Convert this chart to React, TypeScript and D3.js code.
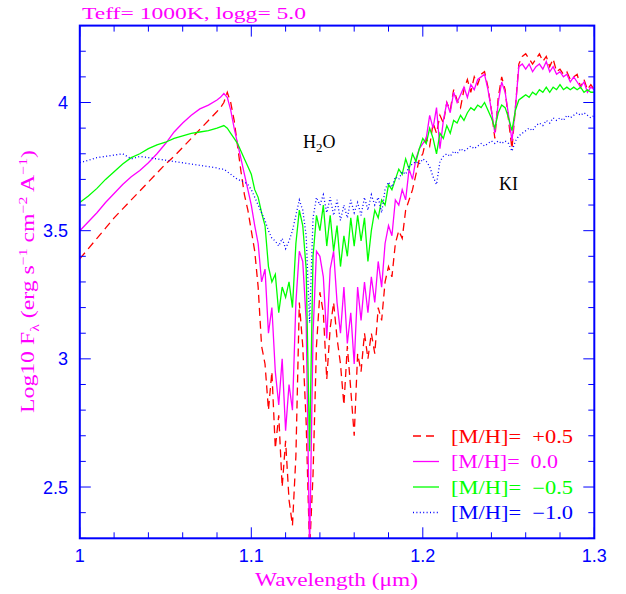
import React from "react";
import * as d3 from "d3";

// Wavelength grid (micron)
const wavelengths = [
  1.000, 1.005, 1.010, 1.015, 1.020, 1.025, 1.030, 1.035, 1.040, 1.045, 1.050, 1.055, 1.060, 1.065, 1.070, 1.075, 1.080,
  1.082, 1.084, 1.086, 1.088, 1.090, 1.092, 1.094, 1.096, 1.098, 1.100,
  1.102, 1.104, 1.106, 1.108, 1.110, 1.112, 1.114, 1.116, 1.118, 1.120,
  1.122, 1.124, 1.126, 1.128, 1.130, 1.132, 1.134, 1.136, 1.138, 1.140,
  1.142, 1.144, 1.146, 1.148, 1.150, 1.152, 1.154, 1.156, 1.158, 1.160,
  1.162, 1.164, 1.166, 1.168, 1.170, 1.172, 1.174, 1.176, 1.178, 1.180,
  1.182, 1.184, 1.186, 1.188, 1.190, 1.192, 1.194, 1.196, 1.198, 1.200,
  1.202, 1.204, 1.206, 1.208, 1.210, 1.212, 1.214, 1.216, 1.218, 1.220,
  1.222, 1.224, 1.226, 1.228, 1.230, 1.232, 1.234, 1.236, 1.238, 1.240,
  1.242, 1.244, 1.246, 1.248, 1.250, 1.252, 1.254, 1.256, 1.258, 1.260,
  1.262, 1.264, 1.266, 1.268, 1.270, 1.272, 1.274, 1.276, 1.278, 1.280,
  1.282, 1.284, 1.286, 1.288, 1.290, 1.292, 1.294, 1.296, 1.298, 1.300,
];

// [M/H] = +0.5
const fluxPlus05 = [
  3.39, 3.43, 3.47, 3.51, 3.55, 3.585, 3.62, 3.655, 3.69, 3.725, 3.76, 3.79, 3.825, 3.86, 3.895, 3.93, 3.965,
  3.98, 4.00, 4.04, 4.00, 3.93, 3.83, 3.73, 3.64, 3.58, 3.50,
  3.42, 3.28, 3.05, 2.98, 2.80, 2.95, 2.65, 2.78, 2.50, 2.68,
  2.45, 2.35, 2.62, 3.22, 3.05, 2.75, 2.25, 2.55, 3.05, 3.26,
  3.18, 2.92, 3.12, 3.22, 3.08, 2.98, 2.82, 3.05, 2.88, 2.70,
  3.02, 2.95, 3.10, 3.00, 3.10, 3.02, 3.20, 3.15, 3.30, 3.36,
  3.32, 3.45, 3.50, 3.47, 3.58, 3.62, 3.66, 3.72, 3.78, 3.80,
  3.86, 3.83, 3.92, 3.88, 3.95, 3.92, 4.00, 3.97, 4.05, 4.01,
  3.98, 4.05, 4.09, 4.04, 4.10, 4.07, 4.11, 4.12, 4.06, 3.97,
  3.86, 4.02, 4.10, 4.05, 3.93, 3.82, 3.98, 4.15, 4.18, 4.19,
  4.17, 4.15, 4.17, 4.19, 4.16, 4.18, 4.14, 4.17, 4.12, 4.13,
  4.11, 4.12, 4.09, 4.10, 4.11, 4.06, 4.09, 4.05, 4.07, 4.05,
];

// [M/H] = 0.0
const fluxZero = [
  3.50, 3.535, 3.57, 3.61, 3.645, 3.68, 3.71, 3.735, 3.765, 3.80, 3.84, 3.885, 3.92, 3.95, 3.975, 3.99, 4.01,
  4.02, 4.035, 4.02, 3.97, 3.90, 3.84, 3.78, 3.72, 3.66, 3.60,
  3.52, 3.45, 3.30, 3.35, 3.10, 3.20, 2.95, 2.82, 3.00, 2.72,
  2.90, 2.80, 3.22, 3.42, 3.38, 3.15, 2.25, 3.10, 3.42, 3.40,
  3.32, 3.08, 3.35, 3.42, 3.22, 3.10, 3.28, 3.06, 3.18, 2.98,
  3.28, 3.15, 3.30, 3.18, 3.32, 3.22, 3.38, 3.28, 3.45, 3.52,
  3.48, 3.62, 3.60, 3.66, 3.62, 3.74, 3.70, 3.78, 3.82, 3.84,
  3.86, 3.95, 3.90, 3.98, 3.82, 3.93, 4.00, 3.96, 4.04, 4.00,
  4.03, 4.06, 4.02, 4.07, 4.05, 4.09, 4.10, 4.11, 4.05, 3.97,
  3.88, 4.00, 4.08, 4.04, 3.95, 3.85, 3.98, 4.14, 4.15, 4.13,
  4.15, 4.12, 4.14, 4.15, 4.13, 4.16, 4.12, 4.14, 4.11, 4.12,
  4.10, 4.11, 4.08, 4.10, 4.08, 4.06, 4.08, 4.04, 4.06, 4.05,
];

// [M/H] = -0.5
const fluxMinus05 = [
  3.61, 3.635, 3.665, 3.70, 3.73, 3.76, 3.785, 3.80, 3.82, 3.835, 3.845, 3.86, 3.87, 3.88, 3.885, 3.89, 3.90,
  3.905, 3.91, 3.90, 3.88, 3.86, 3.84, 3.81, 3.78, 3.75, 3.72,
  3.66, 3.63, 3.57, 3.52, 3.36, 3.30, 3.33, 3.18, 3.28, 3.24,
  3.30, 3.20, 3.45, 3.58, 3.52, 3.35, 2.64, 3.40, 3.56, 3.50,
  3.60, 3.44, 3.56, 3.42, 3.52, 3.36, 3.48, 3.40, 3.55, 3.44,
  3.56, 3.46, 3.55, 3.38, 3.50, 3.58, 3.55, 3.62, 3.60, 3.68,
  3.66, 3.70, 3.74, 3.72, 3.78, 3.74, 3.80, 3.77, 3.82, 3.86,
  3.84, 3.90, 3.86, 3.80, 3.88, 3.86, 3.91, 3.88, 3.93, 3.92,
  3.95, 3.93, 3.96, 3.98, 3.97, 3.99, 3.98, 4.00, 3.97, 3.94,
  3.90, 3.96, 3.99, 3.98, 3.94, 3.89, 3.97, 4.01, 4.02, 4.03,
  4.02, 4.04, 4.03, 4.05, 4.04, 4.06, 4.04, 4.06, 4.05, 4.07,
  4.05, 4.06, 4.05, 4.06, 4.05, 4.06, 4.04, 4.05, 4.04, 4.04,
];

// [M/H] = -1.0
const fluxMinus10 = [
  3.765, 3.775, 3.785, 3.79, 3.795, 3.80, 3.78, 3.79, 3.785, 3.78, 3.775, 3.77, 3.765, 3.76, 3.755, 3.75, 3.745,
  3.74, 3.74, 3.73, 3.72, 3.71, 3.70, 3.695, 3.69, 3.68, 3.66,
  3.63, 3.60, 3.57, 3.54, 3.50, 3.47, 3.46, 3.44, 3.47, 3.43,
  3.46, 3.50, 3.56, 3.62, 3.58, 3.48, 3.14, 3.55, 3.63, 3.60,
  3.64, 3.57, 3.63, 3.56, 3.62, 3.54, 3.60, 3.55, 3.62, 3.57,
  3.61, 3.56, 3.63, 3.58, 3.64, 3.60, 3.63, 3.57, 3.66, 3.69,
  3.67, 3.71, 3.70, 3.73, 3.72, 3.75, 3.76, 3.77, 3.76, 3.78,
  3.77, 3.75, 3.71, 3.68, 3.77, 3.79, 3.80, 3.79, 3.81, 3.80,
  3.82, 3.81, 3.82, 3.83, 3.82, 3.83, 3.84, 3.83, 3.84, 3.85,
  3.84, 3.85, 3.84, 3.85, 3.84, 3.81, 3.85, 3.87, 3.88, 3.89,
  3.90, 3.89, 3.91, 3.92, 3.91, 3.93, 3.92, 3.94, 3.93, 3.94,
  3.93, 3.95, 3.94, 3.95, 3.96, 3.95, 3.96, 3.95, 3.94, 3.95,
];

const seriesLabels = ["[M/H]=  +0.5", "[M/H]=  0.0", "[M/H]=  \u22120.5", "[M/H]=  \u22121.0"];
const seriesColors = ["#ff0000", "#ff00ff", "#00ff00", "#0000ff"];
const seriesDash = ["8,5", "none", "none", "1,2.4"];

const xTickLabels = ["1", "1.1", "1.2", "1.3"];
const yTickLabels = ["2.5", "3", "3.5", "4"];

const W = 626;
const H = 594;
const left = 79.8;
const right = 594.3;
const top = 25.6;
const bottom = 538.3;

export default function App() {
  const x = d3.scaleLinear().domain([1, 1.3]).range([left, right]);
  const y = d3.scaleLinear().domain([2.3, 4.3]).range([bottom, top]);
  const series = [fluxPlus05, fluxZero, fluxMinus05, fluxMinus10];
  const line = d3
    .line<number>()
    .x((_, i) => x(wavelengths[i]))
    .y((d) => y(d));

  const xMinor = d3.range(0, 16).map((i) => 1 + i * 0.02);
  const yMinor = d3.range(0, 21).map((i) => 2.3 + i * 0.1);
  const isMajorX = (v: number) => Math.abs(v * 10 - Math.round(v * 10)) < 1e-6;
  const isMajorY = (v: number) => Math.abs(v * 2 - Math.round(v * 2)) < 1e-6;
  const axisColor = "#0000ff";
  const big = 11;
  const small = 6;
  const numFont = "'Liberation Sans', Arial, sans-serif";
  const txtFont = "'Liberation Serif', 'Times New Roman', serif";

  const legendRows = [436, 461.5, 487, 512.5];
  const legendWidths = [122, 107, 122, 122];

  return (
    <svg
      width={W}
      height={H}
      style={{ position: "absolute", left: 0, top: 0, background: "#fff" }}
    >
      <defs>
        <clipPath id="plotClip">
          <rect x={left} y={top} width={right - left} height={bottom - top} />
        </clipPath>
      </defs>
      <rect x={0} y={0} width={W} height={H} fill="#fff" />

      {/* spectra */}
      <g clipPath="url(#plotClip)">
        {series.map((s, k) => (
          <path
            key={k}
            d={line(s) || ""}
            fill="none"
            stroke={seriesColors[k]}
            strokeWidth={1.3}
            strokeDasharray={seriesDash[k]}
          />
        ))}
      </g>

      {/* ticks */}
      <g stroke={axisColor} strokeWidth={1}>
        {xMinor.map((v, i) => {
          const len = isMajorX(v) ? big : small;
          const px = x(v);
          return (
            <g key={"xt" + i}>
              <line x1={px} x2={px} y1={bottom} y2={bottom - len} />
              <line x1={px} x2={px} y1={top} y2={top + len} />
            </g>
          );
        })}
        {yMinor.map((v, i) => {
          const len = isMajorY(v) ? big : small;
          const py = y(v);
          return (
            <g key={"yt" + i}>
              <line x1={left} x2={left + len} y1={py} y2={py} />
              <line x1={right} x2={right - len} y1={py} y2={py} />
            </g>
          );
        })}
      </g>

      {/* frame */}
      <rect
        x={left}
        y={top}
        width={right - left}
        height={bottom - top}
        fill="none"
        stroke={axisColor}
        strokeWidth={2}
      />

      {/* tick labels */}
      <g fill={axisColor} fontFamily={numFont} fontSize={18}>
        {xTickLabels.map((t) => (
          <text key={t} x={x(+t)} y={562} textAnchor="middle">
            {t}
          </text>
        ))}
        {yTickLabels.map((t) => (
          <text key={t} x={68} y={y(+t) + 6.5} textAnchor="end">
            {t}
          </text>
        ))}
      </g>

      {/* title */}
      <text
        x={82}
        y={19}
        fill="#ff00ff"
        fontFamily={txtFont}
        fontSize={17}
        textLength={224}
        lengthAdjust="spacingAndGlyphs"
      >
        Teff= 1000K, logg= 5.0
      </text>

      {/* x label */}
      <text
        x={255}
        y={586}
        fill="#ff00ff"
        fontFamily={txtFont}
        fontSize={18}
        textLength={163}
        lengthAdjust="spacingAndGlyphs"
      >
        Wavelength (μm)
      </text>

      {/* y label */}
      <text
        transform="translate(34,413) rotate(-90)"
        fill="#ff00ff"
        fontFamily={txtFont}
        fontSize={18}
        textLength={263}
        lengthAdjust="spacingAndGlyphs"
      >
        Log10 F
        <tspan fontSize={12} dy={5}>λ</tspan>
        <tspan dy={-5}> (erg s</tspan>
        <tspan fontSize={12} dy={-7}>−1</tspan>
        <tspan dy={7}> cm</tspan>
        <tspan fontSize={12} dy={-7}>−2</tspan>
        <tspan dy={7}> A</tspan>
        <tspan fontSize={12} dy={-7}>−1</tspan>
        <tspan dy={7}>)</tspan>
      </text>

      {/* annotations */}
      <text x={303} y={148} fill="#000" fontFamily={txtFont} fontSize={18}>
        H<tspan fontSize={13} dy={4}>2</tspan>
        <tspan dy={-4}>O</tspan>
      </text>
      <text x={499} y={190} fill="#000" fontFamily={txtFont} fontSize={18}>
        KI
      </text>

      {/* legend */}
      {seriesLabels.map((lab, k) => (
        <g key={lab}>
          <line
            x1={413}
            x2={439}
            y1={legendRows[k]}
            y2={legendRows[k]}
            stroke={seriesColors[k]}
            strokeWidth={1.3}
            strokeDasharray={seriesDash[k]}
          />
          <text
            x={451}
            y={legendRows[k] + 6.5}
            fill={seriesColors[k]}
            fontFamily={txtFont}
            fontSize={18}
            textLength={legendWidths[k]}
            lengthAdjust="spacingAndGlyphs"
            style={{ whiteSpace: "pre" }}
          >
            {lab}
          </text>
        </g>
      ))}
    </svg>
  );
}
